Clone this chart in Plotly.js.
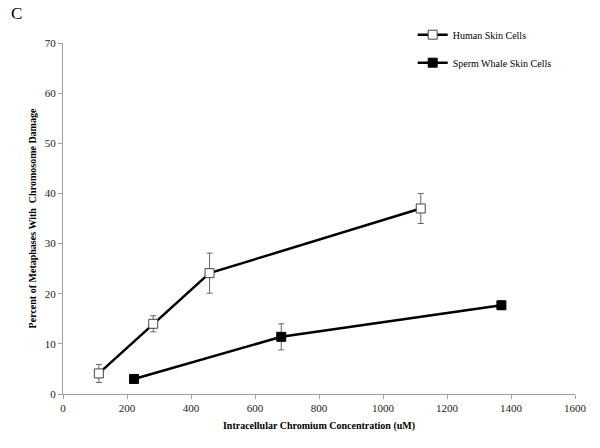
<!DOCTYPE html>
<html>
<head>
<meta charset="utf-8">
<script src="https://cdn.plot.ly/plotly-3.0.1.min.js"></script>
<style>html,body{margin:0;padding:0;background:#fff;}#chart{width:600px;height:448px;}</style>
</head>
<body>
<div id="chart"></div>
<script>
const humanX = [112, 282, 458, 1118];
const humanY = [4.1, 14.0, 24.1, 37.0];
const humanErr = [1.8, 1.6, 4.0, 3.0];
const whaleX = [222, 682, 1370];
const whaleY = [3.0, 11.4, 17.7];
const whaleErr = [0.3, 2.6, 0.8];
const seriesNames = ["Human Skin Cells", "Sperm Whale Skin Cells"];
const xTicks = [0, 200, 400, 600, 800, 1000, 1200, 1400, 1600];
const yTicks = [0, 10, 20, 30, 40, 50, 60, 70];

const serif = "Liberation Serif, Times New Roman, serif";

const traces = [
  {
    x: humanX, y: humanY, name: seriesNames[0], type: "scatter", mode: "lines+markers",
    legendgroup: "a",
    line: {color: "#000", width: 2.5},
    marker: {symbol: "square", size: 9, color: "#fff", line: {color: "#444", width: 1}},
    error_y: {type: "data", array: humanErr, visible: true, color: "#666", thickness: 1, width: 3}
  },
  {
    x: whaleX, y: whaleY, name: seriesNames[1], type: "scatter", mode: "lines+markers",
    legendgroup: "b",
    line: {color: "#000", width: 2.5},
    marker: {symbol: "square", size: 9, color: "#000", line: {color: "#000", width: 1}},
    error_y: {type: "data", array: whaleErr, visible: true, color: "#666", thickness: 1, width: 3}
  }
];

const layout = {
  width: 600, height: 448,
  margin: {l: 63, r: 25, t: 43, b: 54},
  paper_bgcolor: "#fff", plot_bgcolor: "#fff",
  font: {family: serif, size: 10, color: "#000"},
  showlegend: true,
  legend: {
    x: 0.683, y: 1.065, xanchor: "left", yanchor: "top",
    font: {family: serif, size: 10, color: "#000"},
    traceorder: "grouped", tracegroupgap: 9,
    itemwidth: 30, bgcolor: "rgba(0,0,0,0)"
  },
  xaxis: {
    range: [0, 1600], tickvals: xTicks, ticktext: xTicks.map(String),
    showgrid: false, zeroline: false, showline: true, linecolor: "#a0a0a0", linewidth: 1,
    ticks: "outside", ticklen: 4, tickcolor: "#a0a0a0",
    tickfont: {family: serif, size: 11, color: "#222"},
    title: {text: "<b>Intracellular Chromium Concentration (uM)</b>", font: {family: serif, size: 10, color: "#000"}, standoff: 8}
  },
  yaxis: {
    range: [0, 70], tickvals: yTicks, ticktext: yTicks.map(String),
    showgrid: false, zeroline: false, showline: true, linecolor: "#a0a0a0", linewidth: 1,
    ticks: "outside", ticklen: 4, tickcolor: "#a0a0a0",
    tickfont: {family: serif, size: 11, color: "#222"},
    title: {text: "<b>Percent of Metaphases With  Chromosome Damage</b>", font: {family: serif, size: 10, color: "#000"}, standoff: 6}
  },
  annotations: [
    {text: "C", xref: "paper", yref: "paper", x: -0.105, y: 1.085, xanchor: "left", yanchor: "middle",
     showarrow: false, font: {family: serif, size: 17, color: "#000"}}
  ]
};

Plotly.newPlot("chart", traces, layout, {displayModeBar: false, staticPlot: true});
</script>
</body>
</html>
